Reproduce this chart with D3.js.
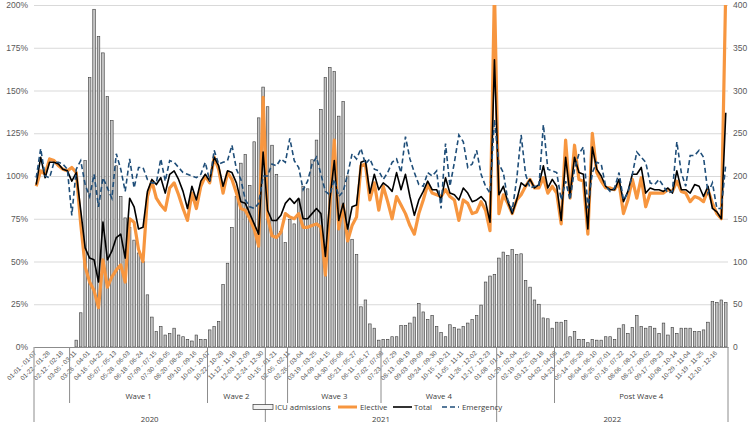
<!DOCTYPE html>
<html>
<head>
<meta charset="utf-8">
<script src="https://cdn.jsdelivr.net/npm/d3@7"></script>
<style>
  body { margin: 0; background: #fff; }
  svg { font-family: 'Open Sans', sans-serif; display: block; }
</style>
</head>
<body>
<div class="chart"></div>
<script>
// categories: 52 weeks per year, three years
const years = ['2020', '2021', '2022'];
const weekLabels = [
  '01-01 - 01-07', '01-08 - 01-14', '01-15 - 01-21', '01-22 - 01-28', '01-29 - 02-04',
  '02-05 - 02-11', '02-12 - 02-18', '02-19 - 02-25', '02-26 - 03-04', '03-05 - 03-11',
  '03-12 - 03-18', '03-19 - 03-25', '03-26 - 04-01', '04-02 - 04-08', '04-09 - 04-15',
  '04-16 - 04-22', '04-23 - 04-29', '04-30 - 05-06', '05-07 - 05-13', '05-14 - 05-20',
  '05-21 - 05-27', '05-28 - 06-03', '06-04 - 06-10', '06-11 - 06-17', '06-18 - 06-24',
  '06-25 - 07-01', '07-02 - 07-08', '07-09 - 07-15', '07-16 - 07-22', '07-23 - 07-29',
  '07-30 - 08-05', '08-06 - 08-12', '08-13 - 08-19', '08-20 - 08-26', '08-27 - 09-02',
  '09-03 - 09-09', '09-10 - 09-16', '09-17 - 09-23', '09-24 - 09-30', '10-01 - 10-07',
  '10-08 - 10-14', '10-15 - 10-21', '10-22 - 10-28', '10-29 - 11-04', '11-05 - 11-11',
  '11-12 - 11-18', '11-19 - 11-25', '11-26 - 12-02', '12-03 - 12-09', '12-10 - 12-16',
  '12-17 - 12-23', '12-24 - 12-30',
];
// wave groups (start = index of first week in the whole series)
const waveNames = ['', 'Wave 1', 'Wave 2', '', 'Wave 3', 'Wave 4', '', 'Post Wave 4'];
const waveStarts = [0, 8, 39, 52, 57, 78, 104, 117];

// ICU admissions (right axis)
const icu = [
  0, 0, 0, 0, 0, 0, 0, 0, 0, 8, 40, 218, 315,
  395, 363, 344, 293, 265, 212, 176, 151, 140, 125, 110, 100, 61,
  35, 18, 24, 14, 16, 22, 14, 12, 9, 7, 14, 9, 9,
  20, 24, 30, 73, 98, 140, 176, 215, 225, 189, 240, 268, 304,
  281, 236, 202, 135, 122, 149, 144, 173, 188, 185, 219, 242, 278,
  315, 327, 322, 270, 287, 200, 126, 108, 47, 55, 27, 22, 8,
  9, 9, 12, 12, 25, 25, 28, 35, 51, 41, 32, 37, 24,
  17, 12, 26, 23, 21, 24, 28, 32, 37, 49, 76, 83, 85,
  104, 111, 107, 114, 108, 109, 78, 70, 55, 50, 34, 33, 22,
  29, 29, 31, 12, 18, 9, 9, 5, 9, 8, 8, 12, 12,
  9, 22, 26, 16, 23, 37, 24, 22, 24, 22, 16, 28, 14,
  23, 16, 22, 22, 22, 18, 18, 20, 29, 53, 52, 55, 52,
];
// percentages (left axis)
const elective = [
  94, 103, 101, 110, 109, 106, 104, 103, 105, 102, 72, 47, 38,
  33, 23, 51, 35, 41, 45, 48, 38, 75, 73, 57, 50, 88,
  97, 87, 83, 80, 93, 96, 89, 81, 74, 90, 81, 94, 100,
  96, 111, 104, 90, 102, 98, 90, 81, 80, 75, 69, 59, 146,
  76, 65, 64, 67, 78, 76, 75, 78, 70, 70, 71, 72, 70,
  42, 82, 121, 69, 83, 62, 71, 76, 106, 107, 86, 96, 80,
  94, 85, 75, 88, 83, 78, 71, 66, 78, 86, 95, 90, 89,
  88, 92, 88, 86, 74, 86, 84, 78, 79, 85, 80, 68, 210,
  78, 89, 84, 78, 86, 89, 94, 98, 93, 93, 99, 90, 94,
  90, 72, 121, 87, 118, 98, 97, 66, 125, 102, 97, 93, 93,
  92, 96, 78, 86, 98, 87, 99, 82, 90, 90, 90, 90, 92,
  91, 97, 91, 90, 85, 88, 87, 85, 92, 84, 78, 75, 210,
];
const total = [
  95, 111, 99, 108, 108, 107, 104, 103, 97, 102, 80, 58, 52,
  51, 38, 73, 51, 56, 64, 66, 52, 87, 82, 69, 70, 91,
  98, 95, 99, 90, 101, 103, 98, 91, 81, 94, 86, 97, 101,
  97, 111, 106, 94, 103, 102, 96, 85, 84, 78, 72, 66, 114,
  80, 74, 74, 77, 84, 87, 84, 87, 75, 75, 78, 81, 78,
  53, 86, 109, 74, 84, 69, 82, 83, 108, 109, 90, 101, 92,
  96, 94, 91, 102, 92, 101, 88, 77, 86, 91, 97, 92, 92,
  86, 99, 90, 89, 86, 93, 90, 85, 86, 88, 85, 73, 168,
  89, 94, 85, 78, 86, 96, 94, 98, 93, 95, 106, 93, 98,
  94, 74, 111, 89, 111, 102, 101, 69, 117, 104, 100, 94, 92,
  92, 98, 85, 91, 101, 101, 105, 90, 93, 92, 92, 91, 93,
  90, 103, 92, 92, 90, 95, 94, 88, 94, 81, 79, 75, 137,
];
const emergency = [
  99, 116, 100, 99, 108, 108, 107, 104, 77, 104, 109, 95, 88,
  101, 82, 99, 93, 87, 113, 104, 91, 110, 93, 105, 105, 98,
  96, 96, 110, 97, 109, 108, 105, 102, 101, 100, 99, 101, 108,
  97, 115, 107, 108, 109, 118, 104, 98, 86, 82, 81, 84, 100,
  100, 107, 106, 110, 108, 122, 109, 105, 92, 97, 107, 111, 101,
  91, 89, 98, 88, 91, 101, 113, 110, 116, 107, 110, 104, 103,
  98, 102, 108, 110, 102, 123, 110, 102, 95, 94, 102, 100, 103,
  81, 119, 94, 108, 124, 120, 105, 107, 115, 101, 94, 90, 133,
  107, 102, 86, 80, 98, 124, 101, 93, 94, 94, 130, 104, 103,
  102, 86, 97, 86, 104, 113, 117, 81, 102, 108, 107, 94, 91,
  93, 102, 86, 90, 101, 114, 111, 108, 96, 95, 98, 94, 90,
  91, 120, 102, 94, 112, 112, 115, 111, 90, 96, 81, 81, 107,
];
const pctTicks = [0, 0.25, 0.5, 0.75, 1, 1.25, 1.5, 1.75, 2];
const icuTicks = [0, 50, 100, 150, 200, 250, 300, 350, 400];

const colors = {
  elective: '#f7963f',
  total: '#000000',
  emergency: '#1f4e79',
  text: '#595959',
  grid: '#d9d9d9',
  axis: '#8c8c8c',
};

const W = 750;
const H = 422;
const margin = {
  top: 5, right: 22, bottom: 75, left: 34,
};
const width = W - margin.left - margin.right;
const height = H - margin.top - margin.bottom;

const svg = d3.select('.chart')
  .append('svg')
  .attr('width', W)
  .attr('height', H);
const g = svg.append('g')
  .attr('transform', `translate(${margin.left},${margin.top})`);

const n = icu.length;
const x = d3.scaleBand()
  .domain(d3.range(n))
  .range([0, width])
  .paddingInner(0.42)
  .paddingOuter(0.21);
const cx = (i) => x(i) + x.bandwidth() / 2;
const yL = d3.scaleLinear().domain([0, 2]).range([height, 0]);
const yR = d3.scaleLinear().domain([0, 400]).range([height, 0]);

// gridlines
g.append('g')
  .call(d3.axisLeft(yL).tickValues(pctTicks).tickSize(-width).tickFormat(''))
  .call((s) => s.select('.domain').remove())
  .call((s) => s.selectAll('line').attr('stroke', colors.grid));

// left axis labels
g.append('g')
  .call(d3.axisLeft(yL).tickValues(pctTicks).tickSize(0).tickPadding(6)
    .tickFormat(d3.format('.0%')))
  .call((s) => s.select('.domain').remove())
  .call((s) => s.selectAll('text').attr('fill', colors.text).style('font-size', '8.5px'));

// right axis labels
g.append('g')
  .attr('transform', `translate(${width},0)`)
  .call(d3.axisRight(yR).tickValues(icuTicks).tickSize(0).tickPadding(5))
  .call((s) => s.select('.domain').remove())
  .call((s) => s.selectAll('text').attr('fill', colors.text).style('font-size', '8.5px'));

// bars
g.selectAll('.bar')
  .data(icu)
  .enter()
  .append('rect')
  .attr('class', 'bar')
  .attr('x', (d, i) => x(i))
  .attr('y', (d) => yR(d))
  .attr('width', x.bandwidth())
  .attr('height', (d) => height - yR(d))
  .attr('fill', (d) => (d > 0 ? '#c4c4c4' : 'none'))
  .attr('stroke', (d) => (d > 0 ? '#3a3a3a' : 'none'))
  .attr('stroke-width', 0.6);

// lines
svg.append('defs').append('clipPath').attr('id', 'plot')
  .append('rect')
  .attr('x', -2)
  .attr('y', 0)
  .attr('width', width + 4)
  .attr('height', height);

const line = d3.line()
  .x((d, i) => cx(i))
  .y((d) => yL(d / 100));

const lines = g.append('g').attr('clip-path', 'url(#plot)');
lines.append('path')
  .datum(elective)
  .attr('d', line)
  .attr('fill', 'none')
  .attr('stroke', colors.elective)
  .attr('stroke-width', 3.2)
  .attr('stroke-linejoin', 'round');
lines.append('path')
  .datum(total)
  .attr('d', line)
  .attr('fill', 'none')
  .attr('stroke', colors.total)
  .attr('stroke-width', 1.6)
  .attr('stroke-linejoin', 'round');
lines.append('path')
  .datum(emergency)
  .attr('d', line)
  .attr('fill', 'none')
  .attr('stroke', colors.emergency)
  .attr('stroke-width', 1.6)
  .attr('stroke-dasharray', '5,3');

// x axis with week labels (every third week)
const xAxis = g.append('g')
  .attr('transform', `translate(0,${height})`)
  .call(d3.axisBottom(x)
    .tickValues(d3.range(0, n, 3))
    .tickSize(0)
    .tickFormat((i) => weekLabels[i % 52]));
xAxis.select('.domain').attr('stroke', colors.axis);
xAxis.selectAll('text')
  .attr('x', 0)
  .attr('y', 0)
  .attr('dy', '0.35em')
  .attr('transform', 'translate(-1,5) rotate(-45)')
  .style('text-anchor', 'end')
  .style('font-size', '6.4px')
  .attr('fill', colors.text);

// group separators
const step = x.step();
const yearStarts = d3.range(0, n + 1, 52);
const seps = Array.from(new Set([...waveStarts, n]));
g.selectAll('.sep')
  .data(seps)
  .enter()
  .append('line')
  .attr('x1', (d) => d * step)
  .attr('x2', (d) => d * step)
  .attr('y1', height)
  .attr('y2', (d) => (yearStarts.includes(d) ? H - margin.top : height + 56))
  .attr('stroke', colors.axis)
  .attr('stroke-width', 1);

// wave labels
g.selectAll('.wave')
  .data(waveNames.map((name, k) => ({ name, a: waveStarts[k], b: waveStarts[k + 1] || n })))
  .enter()
  .append('text')
  .attr('x', (d) => ((d.a + d.b) / 2) * step)
  .attr('y', height + 52)
  .attr('text-anchor', 'middle')
  .attr('fill', '#404040')
  .style('font-size', '7.8px')
  .text((d) => d.name);

// year labels
g.selectAll('.year')
  .data(years)
  .enter()
  .append('text')
  .attr('x', (d, k) => (k * 52 + 26) * step)
  .attr('y', height + 74.5)
  .attr('text-anchor', 'middle')
  .attr('fill', '#404040')
  .style('font-size', '7.8px')
  .text((d) => d);

// legend
const lg = svg.append('g').attr('transform', 'translate(0,407)');
lg.append('rect')
  .attr('x', 253).attr('y', -2.5).attr('width', 20).attr('height', 5)
  .attr('fill', '#f2f2f2').attr('stroke', '#3a3a3a').attr('stroke-width', 0.7);
lg.append('line').attr('x1', 338).attr('x2', 357)
  .attr('stroke', colors.elective).attr('stroke-width', 3);
lg.append('line').attr('x1', 393).attr('x2', 412)
  .attr('stroke', colors.total).attr('stroke-width', 1.6);
lg.append('line').attr('x1', 442).attr('x2', 459)
  .attr('stroke', colors.emergency).attr('stroke-width', 1.6).attr('stroke-dasharray', '5,3');
const legendText = [['ICU admissions', 275], ['Elective', 360], ['Total', 414], ['Emergency', 462]];
lg.selectAll('text')
  .data(legendText)
  .enter()
  .append('text')
  .attr('x', (d) => d[1])
  .attr('y', 0)
  .attr('dy', '0.35em')
  .attr('fill', '#404040')
  .style('font-size', '7.8px')
  .text((d) => d[0]);
</script>
</body>
</html>
